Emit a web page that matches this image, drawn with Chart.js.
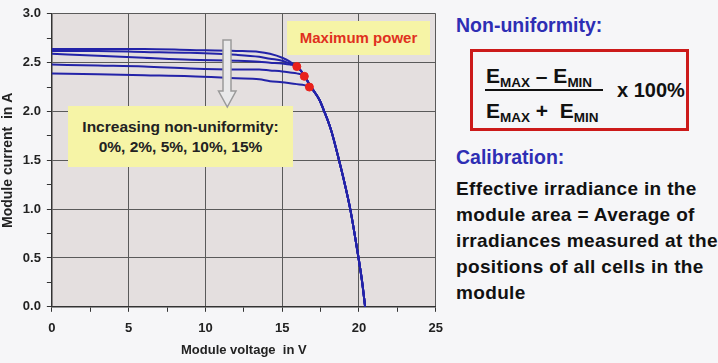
<!DOCTYPE html>
<html>
<head>
<meta charset="utf-8">
<script src="https://cdn.jsdelivr.net/npm/chart.js@4.4.1/dist/chart.umd.min.js"></script>
<style>
  body { margin: 0; background: #f6f6f8; font-family: "Liberation Sans", Arial, sans-serif; }
  #wrap { position: relative; width: 718px; height: 363px; overflow: hidden; }
  #chartBox { position: absolute; left: 0; top: 0; width: 452px; height: 363px; }
  .abs { position: absolute; white-space: nowrap; font-weight: bold; }
  .note { position: absolute; background: #f6f4a6; text-align: center; font-weight: bold; }
  .head { color: #2e2eb4; font-size: 19.5px; line-height: 1; }
  .frac { font-size: 21px; line-height: 1; color: #111; }
  .frac sub { font-size: 13.5px; vertical-align: -4px; line-height: 0; }
  .para { color: #111; font-size: 19px; line-height: 26px; letter-spacing: 0.35px; }
</style>
</head>
<body>
<div id="wrap">
  <div id="chartBox"><canvas id="myChart"></canvas></div>

  <!-- annotations over the plot -->
  <div class="note" style="left:287px;top:21px;width:143px;height:34px;line-height:34px;color:#e0301e;font-size:15px;">Maximum power</div>
  <div class="note" style="left:68px;top:106px;width:225px;height:61px;color:#222;font-size:15.5px;line-height:20px;padding-top:11px;box-sizing:border-box;">Increasing non-uniformity:<br>0%, 2%, 5%, 10%, 15%</div>
  <svg class="abs" style="left:216px;top:38px;" width="24" height="72" viewBox="0 0 24 72">
    <path d="M7 2 H15 V53 H20 L11.3 69 L2.5 53 H7 Z" fill="#e9e9ea" stroke="#9a9a9a" stroke-width="1.5"/>
  </svg>

  <!-- right panel -->
  <div class="abs head" style="left:456px;top:16px;">Non-uniformity:</div>
  <div class="abs" style="left:470px;top:49px;width:213px;height:76px;border:3px solid #cc1a1a;"></div>
  <div class="abs frac" style="left:486px;top:65px;">E<sub>MAX</sub> – E<sub>MIN</sub></div>
  <div class="abs" style="left:485px;top:89px;width:118px;height:2px;background:#111;"></div>
  <div class="abs frac" style="left:486px;top:100px;">E<sub>MAX</sub> +&nbsp; E<sub>MIN</sub></div>
  <div class="abs frac" style="left:617px;top:80px;font-size:20px;">x 100%</div>
  <div class="abs head" style="left:456px;top:148px;">Calibration:</div>
  <div class="abs para" style="left:456px;top:176px;">Effective irradiance in the<br>module area = Average of<br>irradiances measured at the<br>positions of all cells in the<br>module</div>
</div>

<script>
// Module voltage (V) sample points along the I-V curves
var voltage = [0, 3, 6, 9, 12, 13.5, 14.2, 15.0, 15.5, 15.95, 16.44, 16.77, 17.1, 17.42, 17.74, 18.18, 18.7, 19.1, 19.43, 19.7, 19.97, 20.2, 20.4];

// Module current (A) for each non-uniformity level
var current0  = [2.64, 2.64, 2.64, 2.63, 2.62, 2.61, 2.59, 2.55, 2.51, 2.46, 2.37, 2.28, 2.20, 2.12, 2.00, 1.81, 1.50, 1.24, 1.00, 0.76, 0.50, 0.26, 0.00];
var current2  = [2.62, 2.62, 2.61, 2.60, 2.58, 2.56, 2.54, 2.52, 2.49, 2.46, 2.37, 2.28, 2.20, 2.12, 2.00, 1.81, 1.50, 1.24, 1.00, 0.76, 0.50, 0.26, 0.00];
var current5  = [2.59, 2.57, 2.55, 2.53, 2.52, 2.51, 2.50, 2.49, 2.48, 2.46, 2.37, 2.28, 2.20, 2.12, 2.00, 1.81, 1.50, 1.24, 1.00, 0.76, 0.50, 0.26, 0.00];
var current10 = [2.48, 2.47, 2.46, 2.44, 2.43, 2.43, 2.42, 2.41, 2.40, 2.39, 2.36, 2.27, 2.20, 2.12, 2.00, 1.81, 1.50, 1.24, 1.00, 0.76, 0.50, 0.26, 0.00];
var current15 = [2.39, 2.38, 2.37, 2.36, 2.34, 2.33, 2.31, 2.30, 2.29, 2.28, 2.27, 2.25, 2.20, 2.12, 2.00, 1.81, 1.50, 1.24, 1.00, 0.76, 0.50, 0.26, 0.00];

// maximum power points
var mppVoltage = [15.95, 16.44, 16.77];
var mppCurrent = [2.46, 2.36, 2.25];

// labelled ticks
var xTickLabels = [0, 5, 10, 15, 20, 25];
var yTickLabels = [0, 0.5, 1.0, 1.5, 2.0, 2.5, 3.0];

var pts = function (xs, ys) {
  return xs.map(function (x, i) { return { x: x, y: ys[i] }; });
};

var isLabelled = function (list, v) {
  return list.some(function (t) { return Math.abs(t - v) < 1e-6; });
};

var curve = function (ys) {
  return {
    data: pts(voltage, ys),
    showLine: true,
    borderColor: '#2323a8',
    borderWidth: 2,
    pointRadius: 0,
    cubicInterpolationMode: 'monotone',
    order: 2
  };
};

var plotBg = {
  id: 'plotBg',
  beforeDraw: function (chart) {
    var a = chart.chartArea, c = chart.ctx;
    c.save();
    c.fillStyle = '#e4dfdf';
    c.fillRect(a.left, a.top, a.right - a.left, a.bottom - a.top);
    c.restore();
  }
};

var tickFont = { family: '"Liberation Sans", Arial, sans-serif', size: 13, weight: 'bold' };

var ctx = document.getElementById('myChart');
var myChart = new Chart(ctx, {
  type: 'scatter',
  data: {
    datasets: [
      curve(current0),
      curve(current2),
      curve(current5),
      curve(current10),
      curve(current15),
      {
        data: pts(mppVoltage, mppCurrent),
        backgroundColor: '#e8221c',
        borderColor: '#e8221c',
        pointRadius: 4,
        order: 1
      }
    ]
  },
  options: {
    responsive: true,
    maintainAspectRatio: false,
    animation: false,
    layout: { padding: { top: 10, right: 4, left: 0, bottom: 5 } },
    plugins: { legend: { display: false }, tooltip: { enabled: false } },
    scales: {
      x: {
        type: 'linear',
        min: 0, max: 25,
        ticks: {
          stepSize: 2.5,
          color: '#222',
          font: tickFont,
          maxRotation: 0,
          autoSkip: false,
          padding: 9,
          callback: function (v) { return isLabelled(xTickLabels, v) ? String(v) : ''; }
        },
        grid: {
          color: function (c) { return c.tick && isLabelled(xTickLabels, c.tick.value) && c.tick.value > 0 ? '#5a5a5a' : 'rgba(0,0,0,0)'; },
          borderDash: [3, 2],
          tickColor: '#333',
          tickLength: 5,
          lineWidth: 1
        },
        border: { color: '#333', width: 1.5 },
        title: { display: true, text: 'Module voltage  in V', color: '#222', font: tickFont, padding: { top: -3, bottom: 0 } }
      },
      y: {
        type: 'linear',
        min: 0, max: 3,
        ticks: {
          stepSize: 0.25,
          color: '#222',
          font: tickFont,
          autoSkip: false,
          padding: 6,
          callback: function (v) { return isLabelled(yTickLabels, v) ? v.toFixed(1) : ''; }
        },
        grid: {
          color: function (c) { return c.tick && isLabelled(yTickLabels, c.tick.value) && c.tick.value > 0 ? '#5a5a5a' : 'rgba(0,0,0,0)'; },
          borderDash: [3, 2],
          tickColor: '#333',
          tickLength: 5,
          lineWidth: 1
        },
        border: { color: '#333', width: 1.5 },
        title: {
          display: true,
          text: 'Module current  in A',
          color: '#222',
          font: { family: '"Liberation Sans", Arial, sans-serif', size: 14, weight: 'bold' },
          padding: { top: 0, bottom: 0 }
        }
      }
    }
  },
  plugins: [plotBg]
});
</script>
</body>
</html>
